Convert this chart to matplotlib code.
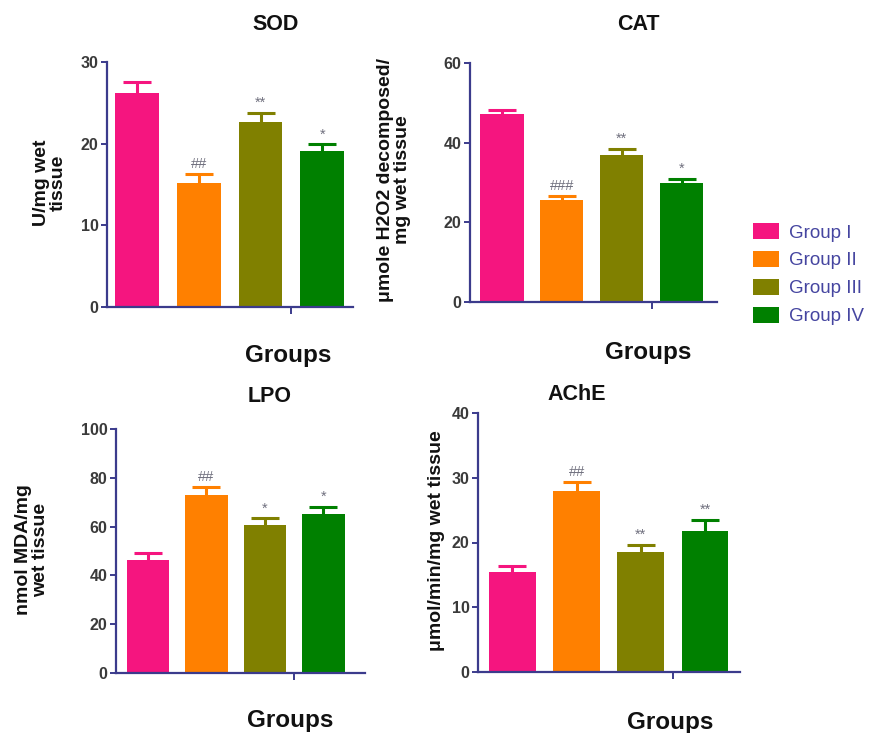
import numpy as np
import matplotlib
matplotlib.use("Agg")
import matplotlib.pyplot as plt

plt.rcParams["font.family"] = ["Liberation Sans", "DejaVu Sans"]

groups = ["Group I", "Group II", "Group III", "Group IV"]
colors = ["#f5157f", "#ff8000", "#808000", "#008000"]

# mean values and upper error (SEM)
sod_mean = [26.2, 15.2, 22.6, 19.1]
sod_err = [1.4, 1.1, 1.2, 0.8]
sod_sig = ["", "##", "**", "*"]

cat_mean = [47.2, 25.5, 36.8, 30.0]
cat_err = [1.1, 1.2, 1.6, 1.0]
cat_sig = ["", "###", "**", "*"]

lpo_mean = [46.4, 73.0, 60.7, 65.1]
lpo_err = [2.7, 3.1, 2.7, 3.0]
lpo_sig = ["", "##", "*", "*"]

ache_mean = [15.4, 27.9, 18.5, 21.7]
ache_err = [1.0, 1.5, 1.1, 1.8]
ache_sig = ["", "##", "**", "**"]

W, H = 871, 733
fig = plt.figure(figsize=(W / 100, H / 100), dpi=100)
axis_col = "#3b3b8c"


def px_axes(left, top, right, bottom):
    return fig.add_axes([left / W, 1 - bottom / H, (right - left) / W, (bottom - top) / H])


def ftext(x, y, s, **kw):
    fig.text(x / W, 1 - y / H, s, **kw)


def panel(box, mean, err, sig, ymax, step, xlim, width):
    ax = px_axes(*box)
    x = np.arange(len(mean))
    bars = ax.bar(x, mean, width=width, color=colors, zorder=2)
    for i in range(len(mean)):
        eb = ax.errorbar(x[i], mean[i], yerr=[[0], [err[i]]], color=colors[i],
                         capsize=10, elinewidth=2.2, capthick=2.2, zorder=1)
        eb[1][0].set_visible(False)
        if sig[i]:
            ax.text(x[i], mean[i] + err[i] + ymax * 0.012, sig[i], ha="center",
                    va="bottom", fontsize=10.5, color="#70707e")
    ax.set_xlim(*xlim)
    ax.set_ylim(0, ymax)
    ax.set_yticks(np.arange(0, ymax + 1, step))
    ax.set_xticks([2.5])
    ax.set_xticklabels([""])
    for s in ["top", "right"]:
        ax.spines[s].set_visible(False)
    for s in ["left", "bottom"]:
        ax.spines[s].set_color(axis_col)
        ax.spines[s].set_linewidth(1.6)
    ax.tick_params(colors=axis_col, width=1.4, length=4, labelsize=11.5,
                   labelcolor="#3a3a3a", pad=2)
    ax.tick_params(axis="x", length=5)
    for lab in ax.get_yticklabels():
        lab.set_fontweight("bold")
    return bars


panel((107, 62, 353, 307), sod_mean, sod_err, sod_sig, 30, 10, (-0.49, 3.5), 0.71)
cat_bars = panel((470, 63, 717, 302), cat_mean, cat_err, cat_sig, 60, 20, (-0.535, 3.59), 0.72)
panel((116, 429, 365, 673), lpo_mean, lpo_err, lpo_sig, 100, 20, (-0.547, 3.71), 0.72)
panel((478, 413, 740, 672), ache_mean, ache_err, ache_sig, 40, 10, (-0.537, 3.545), 0.73)

tkw = dict(ha="center", va="center", fontsize=15.5, fontweight="bold", color="#111111")
ftext(276, 25, "SOD", **tkw)
ftext(638, 25, "CAT", **tkw)
ftext(270, 396, "LPO", **tkw)
ftext(577, 394, "AChE", **tkw)

gkw = dict(ha="center", va="center", fontsize=17.5, fontweight="bold", color="#111111")
ftext(288, 356, "Groups", **gkw)
ftext(648, 352, "Groups", **gkw)
ftext(290, 721, "Groups", **gkw)
ftext(670, 722, "Groups", **gkw)

ykw = dict(ha="center", va="center", rotation=90, fontsize=14, fontweight="bold",
           color="#111111", multialignment="center", linespacing=1.0)
ftext(50, 183, "U/mg wet\ntissue", **ykw)
ftext(394, 180, "\u03bcmole H2O2 decomposed/\nmg wet tissue", **ykw)
ftext(32, 550, "nmol MDA/mg\nwet tissue", **ykw)
ftext(436, 541, "\u03bcmol/min/mg wet tissue", **ykw)

fig.legend(cat_bars.patches, groups, loc="upper left",
           bbox_to_anchor=(753 / W, 1 - 223 / H), frameon=False,
           borderaxespad=0, borderpad=0,
           fontsize=13.5, labelcolor="#4545a0", handlelength=1.4,
           handleheight=0.95, handletextpad=0.5, labelspacing=0.5)

fig.savefig("out.png", dpi=100)
